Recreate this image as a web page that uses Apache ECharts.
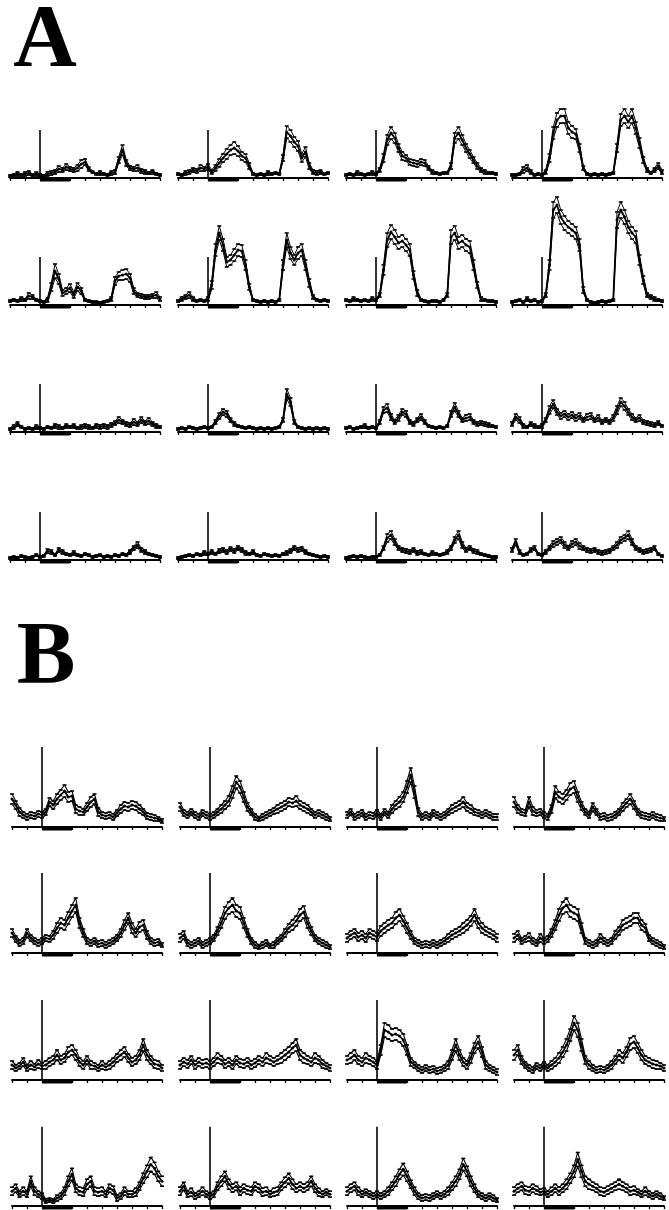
<!DOCTYPE html>
<html><head><meta charset="utf-8">
<script src="https://cdn.jsdelivr.net/npm/echarts@6/dist/echarts.min.js"></script>
<style>html,body{margin:0;padding:0;background:#fff}#c{width:669px;height:1210px}</style>
</head><body><div id="c"></div>
<script>
// time bins (stimulus-time units, 0..10)
const timeBins = [0,0.25,0.5,0.75,1,1.25,1.5,1.75,2,2.25,2.5,2.75,3,3.25,3.5,3.75,4,4.25,4.5,4.75,5,5.25,5.5,5.75,6,6.25,6.5,6.75,7,7.25,7.5,7.75,8,8.25,8.5,8.75,9,9.25,9.5,9.75,10];
const stimulusPeriod = [2, 4];
const scaleBarA = 48;
const scaleBarB = 80;
const sectionLabels = ['A', 'B'];

// ---- Section A: mean responses ----
const meanA11 = [2,3,4,3,4,5,3,4,3, 2,4,5,6, 9,8,11,9, 8,10,14,16, 9,6,4,5, 4,3,5,6, 18,28,15,10, 9,10,7,6, 5,6,4,3];
const meanA12 = [4,3,5,6,8,7,10,9,11, 6,10,15,20, 24,28,30,27, 22,20,12,4, 3,4,3,5, 4,5,4,20, 46,42,36,32, 20,26,12,6, 5,6,4,5];
const meanA13 = [3,4,3,5,4,3,4,5,4, 8,20,38,45, 40,30,22,20, 16,15,14,16, 15,10,6,5, 4,5,5,12, 40,45,38,30, 24,18,12,8, 6,5,5,4];
const meanA14 = [3,3,4,8,10,6,3,4,3, 6,20,45,58, 62,62,50,46, 44,30,10,4, 3,4,3,4, 3,4,5,30, 58,62,56,62, 50,35,18,8, 5,8,12,6];
const meanA21 = [4,5,4,6,5,9,8,5,4, 3,5,18,34, 26,12,14,17, 10,18,14,5, 4,3,3,2, 3,4,6,24, 29,30,31,27, 14,10,9,8, 8,9,10,6];
const meanA22 = [4,6,8,10,6,4,5,4,6, 20,55,72,60, 43,45,50,55, 54,40,18,5, 4,3,4,3, 4,3,5,40, 65,52,45,52, 55,40,22,8, 5,4,5,4];
const meanA23 = [5,4,6,5,4,5,4,6,5, 10,35,65,73, 68,62,64,60, 55,30,12,5, 4,3,4,4, 3,5,10,68, 72,62,64,60, 58,40,20,6, 5,4,4,3];
const meanA24 = [3,4,5,3,6,4,5,3,4, 10,40,95,100, 88,82,78,75, 72,60,15,5, 3,2,3,4, 3,4,5,85, 95,88,78,72, 68,45,25,10, 8,6,5,4];
const meanA31 = [3,5,8,5,3,4,3,5,4, 3,5,4,6, 5,4,6,5, 6,4,5,6, 5,4,6,5, 6,5,7,9, 12,10,8,7, 10,8,12,9, 11,8,6,5];
const meanA32 = [3,4,3,5,4,3,4,5,4, 5,10,16,20, 18,12,8,6, 5,4,5,4, 3,4,3,4, 3,4,5,12, 38,30,10,5, 4,3,4,3, 4,3,4,3];
const meanA33 = [4,5,3,4,5,6,4,5,4, 10,22,24,15, 10,14,20,18, 10,8,12,15, 10,6,5,4, 5,4,6,18, 25,18,12,14, 15,10,8,9, 8,7,6,5];
const meanA34 = [8,15,12,6,5,8,6,5,6, 12,22,28,20, 16,18,15,17, 14,16,12,15, 16,12,14,10, 12,10,14,22, 30,26,20,15, 12,14,10,9, 8,7,9,6];
const meanA41 = [2,3,2,4,3,2,3,5,3, 4,9,8,5, 10,8,6,5, 7,5,4,6, 5,3,4,5, 3,4,3,5, 4,6,5,8, 12,15,10,8, 6,5,4,3];
const meanA42 = [2,3,4,5,4,6,5,7,6, 8,6,9,10, 8,11,9,12, 10,7,6,8, 5,4,6,5, 4,5,4,6, 7,9,12,10, 11,8,6,5, 4,3,4,3];
const meanA43 = [2,3,4,3,4,3,2,3,3, 5,12,22,25, 18,12,10,9, 8,10,7,8, 6,5,7,6, 5,6,8,12, 20,25,15,10, 12,9,8,6, 5,4,3,3];
const meanA44 = [10,18,8,5,6,10,12,6,5, 8,12,16,18, 20,15,12,16, 18,14,12,10, 9,10,8,7, 8,9,12,15, 20,22,25,18, 12,10,8,9, 10,12,6,4];

// ---- Section A: standard errors ----
const semA11 = [1,1,2,1,2,2,1,2,1, 1,2,2,2, 3,2,3,2, 2,3,4,3, 2,1,1,2, 1,1,2,2, 3,5,3,2, 2,3,2,2, 1,2,1,1];
const semA12 = [1,1,2,2,2,2,3,2,3, 2,3,4,4, 5,5,6,5, 4,4,3,1, 1,1,1,2, 1,1,1,3, 6,6,5,5, 4,5,3,2, 2,2,1,1];
const semA13 = [1,1,1,2,1,1,1,2,1, 2,4,5,6, 5,4,4,3, 3,3,3,3, 3,2,2,1, 1,1,1,3, 5,6,5,4, 4,3,3,2, 2,1,1,1];
const semA14 = [1,1,1,3,3,2,1,1,1, 2,4,6,7, 7,7,6,6, 5,4,2,1, 1,1,1,1, 1,1,1,4, 6,7,6,7, 6,5,3,2, 1,2,3,2];
const semA21 = [1,1,1,2,1,3,2,1,1, 1,2,4,7, 5,3,3,4, 3,4,3,1, 1,1,1,1, 1,1,2,4, 4,5,5,4, 3,2,2,2, 2,2,3,2];
const semA22 = [1,2,2,3,2,1,1,1,2, 4,6,7,6, 5,5,6,6, 6,5,3,1, 1,1,1,1, 1,1,1,5, 7,6,5,6, 6,5,4,2, 1,1,1,1];
const semA23 = [1,1,2,1,1,1,1,2,1, 2,5,7,7, 7,6,6,6, 6,4,3,1, 1,1,1,1, 1,1,2,7, 7,6,6,6, 6,5,3,2, 1,1,1,1];
const semA24 = [1,1,1,1,2,1,1,1,1, 2,5,8,8, 7,7,6,6, 6,6,3,1, 1,1,1,1, 1,1,1,8, 8,7,6,6, 6,5,4,2, 2,2,1,1];
const semA31 = [1,2,2,1,1,1,1,2,1, 1,1,1,2, 2,1,2,1, 2,1,2,2, 2,1,2,2, 2,2,2,2, 3,2,2,2, 3,2,3,2, 3,2,2,1];
const semA32 = [1,1,1,1,1,1,1,1,1, 1,2,3,3, 3,2,2,1, 1,1,1,1, 1,1,1,1, 1,1,1,2, 5,4,2,1, 1,1,1,1, 1,1,1,1];
const semA33 = [1,1,1,1,1,2,1,1,1, 2,3,4,3, 2,3,3,3, 2,2,2,3, 2,1,1,1, 1,1,1,3, 4,3,2,3, 3,2,2,2, 2,2,1,1];
const semA34 = [2,3,3,2,1,2,2,1,2, 2,4,4,3, 3,3,3,3, 3,3,2,3, 3,2,3,2, 2,2,3,4, 4,4,3,3, 2,3,2,2, 2,2,2,1];
const semA41 = [1,1,1,1,1,1,1,1,1, 1,2,2,1, 2,2,1,1, 2,1,1,1, 1,1,1,1, 1,1,1,1, 1,1,1,2, 2,3,2,2, 1,1,1,1];
const semA42 = [1,1,1,1,1,1,1,2,1, 2,1,2,2, 2,2,2,2, 2,2,1,2, 1,1,1,1, 1,1,1,1, 2,2,2,2, 2,2,1,1, 1,1,1,1];
const semA43 = [1,1,1,1,1,1,1,1,1, 1,2,4,4, 3,2,2,2, 2,2,2,2, 1,1,2,1, 1,1,2,2, 3,4,3,2, 2,2,2,1, 1,1,1,1];
const semA44 = [2,3,2,1,1,2,2,1,1, 2,2,3,3, 3,3,2,3, 3,3,2,2, 2,2,2,2, 2,2,2,3, 3,3,4,3, 2,2,2,2, 2,2,1,1];

// ---- Section B: mean responses ----
const meanB11 = [28,22,15,12,10,12,11,13,12, 15,25,22,28, 32,36,30,31, 18,16,15,20, 25,28,15,12, 11,12,10,14, 18,21,20,22, 21,18,15,11, 10,9,8,6];
const meanB12 = [20,14,12,15,12,10,14,12,10, 12,15,18,22, 26,35,45,40, 30,20,15,10, 8,10,12,14, 16,18,20,22, 25,24,26,22, 20,18,15,12, 14,12,10,8];
const meanB13 = [12,15,10,12,14,10,12,11,14, 10,15,12,18, 22,25,30,40, 52,35,15,10, 12,10,14,12, 10,12,15,18, 20,22,25,20, 18,15,14,12, 14,12,10,10];
const meanB14 = [25,18,15,14,25,16,14,15,12, 10,18,35,30, 28,32,38,40, 30,21,15,12, 20,15,10,11, 9,10,12,15, 20,24,28,22, 15,12,11,10, 12,10,9,8];
const meanB21 = [20,14,10,12,20,15,12,10,12, 15,14,18,25, 30,28,35,42, 48,30,20,12, 10,12,9,10, 8,10,12,15, 20,28,35,25, 20,26,28,18, 12,10,11,8];
const meanB22 = [15,18,10,8,10,12,8,10,12, 15,22,30,40, 45,48,42,40, 30,20,12,8, 6,8,10,7, 8,12,15,20, 25,28,32,38, 41,30,22,15, 12,10,8,6];
const meanB23 = [15,18,20,16,18,15,20,18,16, 22,25,28,30, 35,38,32,25, 18,12,10,8, 9,8,10,8, 10,12,15,18, 20,22,25,28, 32,38,30,25, 22,20,18,15];
const meanB24 = [15,18,12,14,16,12,10,15,12, 14,20,28,38, 45,48,42,40, 38,25,12,10, 8,10,15,12, 10,12,18,22, 28,30,32,35, 35,28,25,15, 12,10,8,6];
const meanB31 = [15,12,14,18,12,15,13,16,14, 15,18,20,25, 20,22,28,30, 25,18,15,20, 15,14,12,15, 13,15,18,22, 25,28,22,18, 20,25,35,25, 20,16,15,12];
const meanB32 = [15,18,16,20,15,18,16,17,15, 18,22,20,16, 18,15,20,17, 16,18,15,17, 20,18,22,20, 18,20,22,25, 28,32,35,25, 22,20,18,22, 20,16,14,12];
const meanB33 = [20,22,25,20,18,22,20,18,15, 30,50,48,45, 46,44,40,30, 18,15,12,10, 12,10,11,9, 10,12,15,25, 35,25,18,15, 22,32,38,28, 15,12,10,8];
const meanB34 = [25,30,20,15,12,10,14,12,15, 12,15,18,22, 28,35,45,57, 50,35,20,15, 12,10,11,10, 12,15,20,25, 22,28,36,38, 32,25,20,18, 16,15,14,12];
const meanB41 = [15,18,12,15,12,25,15,12,10, 5,6,5,8, 10,15,25,32, 18,15,14,22, 25,15,14,15, 12,18,16,8, 10,15,12,12, 14,20,28,35, 42,38,30,25];
const meanB42 = [15,20,12,14,10,12,15,12,10, 12,20,25,30, 22,18,20,15, 18,16,15,20, 18,14,15,12, 14,15,20,24, 28,22,18,20, 18,20,25,18, 14,12,14,12];
const meanB43 = [15,18,20,15,12,14,12,10,12, 10,12,15,20, 25,32,37,30, 22,15,10,8, 9,8,10,12, 10,12,15,20, 25,32,42,35, 25,18,12,10, 8,10,8,6];
const meanB44 = [15,18,20,16,15,18,16,14,15, 12,15,18,15, 18,22,28,35, 47,35,25,22, 20,18,15,14, 16,18,20,22, 20,18,15,16, 14,12,15,12, 10,12,10,8];

// ---- Section B: standard errors ----
const semB11 = [5,4,4,3,3,3,3,3,3, 3,4,4,5, 5,6,5,5, 4,4,3,4, 5,5,4,3, 3,3,3,3, 4,4,4,4, 4,4,3,3, 3,3,2,2];
const semB12 = [4,3,3,3,3,3,3,3,3, 3,3,4,4, 5,6,6,6, 5,4,3,3, 2,3,3,3, 3,4,4,4, 4,4,5,4, 4,4,3,3, 3,3,3,2];
const semB13 = [3,3,3,3,3,3,3,3,3, 3,3,3,4, 4,5,5,6, 7,6,4,3, 3,3,3,3, 3,3,3,4, 4,4,5,4, 4,3,3,3, 3,3,3,3];
const semB14 = [5,4,3,3,5,4,3,3,3, 3,4,6,5, 5,5,6,6, 5,4,3,3, 4,3,3,3, 3,3,3,3, 4,4,5,4, 3,3,3,3, 3,3,3,2];
const semB21 = [4,3,3,3,4,3,3,3,3, 3,3,4,5, 5,5,6,6, 7,5,4,3, 3,3,3,3, 3,3,3,3, 4,5,5,5, 4,5,5,4, 3,3,3,2];
const semB22 = [4,4,3,3,3,3,3,3,3, 3,4,5,6, 6,7,6,6, 5,4,3,3, 2,3,3,2, 3,3,3,4, 4,5,5,6, 6,5,4,3, 3,3,3,2];
const semB23 = [4,4,4,4,4,4,4,4,4, 5,5,5,5, 6,6,5,5, 4,3,3,3, 3,3,3,3, 3,3,4,4, 4,4,5,5, 5,6,5,5, 4,4,4,4];
const semB24 = [4,4,3,3,4,3,3,4,3, 3,4,5,6, 6,7,6,6, 6,5,3,3, 3,3,4,3, 3,3,4,4, 5,5,5,5, 5,5,4,3, 3,3,3,2];
const semB31 = [4,3,3,4,3,4,3,4,3, 4,4,4,5, 4,4,5,5, 5,4,4,4, 4,3,3,4, 3,4,4,4, 5,5,4,4, 4,5,6,5, 4,4,4,3];
const semB32 = [4,4,4,4,4,4,4,4,4, 4,5,4,4, 4,4,4,4, 4,4,4,4, 4,4,5,4, 4,4,5,5, 5,5,6,5, 5,4,4,5, 4,4,3,3];
const semB33 = [4,5,5,4,4,5,4,4,4, 5,7,7,6, 6,6,6,5, 4,3,3,3, 3,3,3,3, 3,3,4,5, 6,5,4,4, 5,5,6,5, 4,3,3,3];
const semB34 = [5,5,4,3,3,3,3,3,3, 3,4,4,5, 5,6,6,7, 7,6,4,4, 3,3,3,3, 3,4,4,5, 5,5,6,6, 5,5,4,4, 4,4,3,3];
const semB41 = [4,4,3,4,3,5,4,3,3, 2,2,2,3, 3,4,5,6, 4,4,4,5, 5,4,4,4, 3,4,4,3, 3,4,3,3, 4,4,5,6, 7,6,5,5];
const semB42 = [4,4,3,4,3,3,4,3,3, 3,4,5,5, 5,4,4,4, 4,4,4,4, 4,4,4,3, 4,4,4,5, 5,5,4,4, 4,4,5,4, 4,3,3,3];
const semB43 = [4,4,4,4,3,3,3,3,3, 3,3,4,4, 5,5,6,5, 4,4,3,3, 3,3,3,3, 3,3,4,4, 5,5,6,5, 5,4,3,3, 3,3,3,2];
const semB44 = [4,4,4,4,4,4,4,3,3, 3,4,4,4, 4,5,5,6, 7,6,5,5, 4,4,4,4, 4,4,4,5, 4,4,4,4, 3,3,4,3, 3,3,3,2];

const panelsA = [
  [meanA11, semA11], [meanA12, semA12], [meanA13, semA13], [meanA14, semA14],
  [meanA21, semA21], [meanA22, semA22], [meanA23, semA23], [meanA24, semA24],
  [meanA31, semA31], [meanA32, semA32], [meanA33, semA33], [meanA34, semA34],
  [meanA41, semA41], [meanA42, semA42], [meanA43, semA43], [meanA44, semA44]
];
const panelsB = [
  [meanB11, semB11], [meanB12, semB12], [meanB13, semB13], [meanB14, semB14],
  [meanB21, semB21], [meanB22, semB22], [meanB23, semB23], [meanB24, semB24],
  [meanB31, semB31], [meanB32, semB32], [meanB33, semB33], [meanB34, semB34],
  [meanB41, semB41], [meanB42, semB42], [meanB43, semB43], [meanB44, semB44]
];

// ---- layout (pixels) ----
const layout = {
  A: { cols: [10, 178, 346, 512], baselines: [178, 305, 432, 560], scale: scaleBarA, label: [45, 42] },
  B: { cols: [12, 180, 347, 514], baselines: [827, 953, 1080, 1207], scale: scaleBarB, label: [46, 659] }
};
const panelW = 150, yMin = -4, yMax = 116, pxPerUnit = 1;

const grid = [], xAxis = [], yAxis = [], series = [];
function addSection(panels, L, errW) {
  panels.forEach((p, k) => {
    const r = Math.floor(k / 4), c = k % 4;
    const gi = grid.length;
    const base = L.baselines[r];
    grid.push({ left: L.cols[c], width: panelW, top: base - yMax * pxPerUnit, height: (yMax - yMin) * pxPerUnit });
    xAxis.push({ gridIndex: gi, type: 'value', min: 0, max: 10, interval: 1,
      axisLine: { show: true, onZero: true, lineStyle: { color: '#000', width: 1.8 } },
      axisTick: { show: true, length: 3, inside: false, lineStyle: { color: '#000', width: 1.3 } },
      axisLabel: { show: false }, splitLine: { show: false } });
    yAxis.push({ gridIndex: gi, type: 'value', min: yMin, max: yMax, show: false });
    const mean = p[0], sem = p[1];
    const errStyle = { type: 'line', xAxisIndex: gi, yAxisIndex: gi, symbol: 'rect', symbolSize: [4, 1.6],
      itemStyle: { color: '#000' }, lineStyle: { color: '#000', width: errW }, z: 2, silent: true };
    series.push(Object.assign({}, errStyle, { data: timeBins.map((t, i) => [t, mean[i] + sem[i]]) }));
    series.push(Object.assign({}, errStyle, { data: timeBins.map((t, i) => [t, mean[i] - sem[i]]) }));
    series.push({ type: 'line', xAxisIndex: gi, yAxisIndex: gi, data: timeBins.map((t, i) => [t, mean[i]]),
      symbol: 'circle', symbolSize: 3, itemStyle: { color: '#000' }, lineStyle: { color: '#000', width: 1.8 }, z: 3, silent: true });
    series.push({ type: 'line', xAxisIndex: gi, yAxisIndex: gi, data: [[stimulusPeriod[0], 0], [stimulusPeriod[0], L.scale]],
      symbol: 'none', lineStyle: { color: '#000', width: 1.6 }, z: 4, silent: true });
    series.push({ type: 'line', xAxisIndex: gi, yAxisIndex: gi, data: [[stimulusPeriod[0], -1.8], [stimulusPeriod[1], -1.8]],
      symbol: 'none', lineStyle: { color: '#000', width: 3.4 }, z: 4, silent: true });
  });
}
addSection(panelsA, layout.A, 1.0);
addSection(panelsB, layout.B, 1.1);

const chart = echarts.init(document.getElementById('c'), null, { renderer: 'canvas' });
chart.setOption({
  animation: false,
  backgroundColor: '#fff',
  grid, xAxis, yAxis, series,
  graphic: sectionLabels.map((s, i) => {
    const pos = i === 0 ? layout.A.label : layout.B.label;
    return { type: 'text', x: pos[0], y: pos[1], silent: true,
      style: { text: s, font: 'bold 88px "Liberation Serif", "DejaVu Serif", serif', fill: '#000', textAlign: 'center', textVerticalAlign: 'middle' } };
  })
});
</script>
</body></html>
